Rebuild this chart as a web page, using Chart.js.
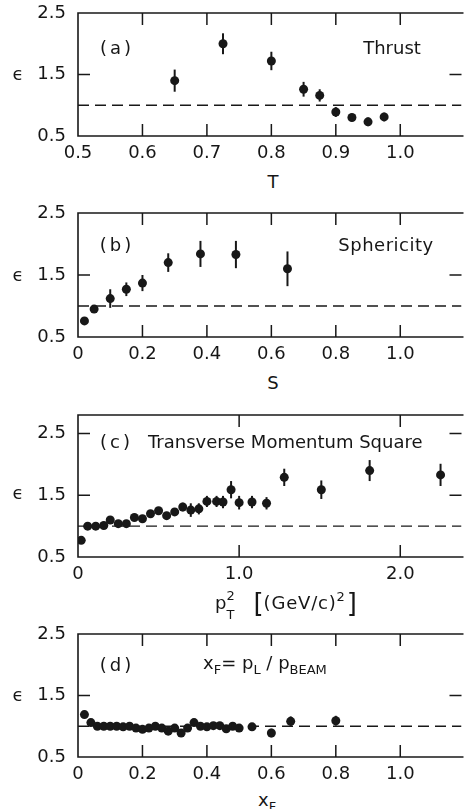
<!DOCTYPE html>
<html><head><meta charset="utf-8">
<script src="https://cdn.jsdelivr.net/npm/chart.js@4/dist/chart.umd.min.js"></script>
<style>
html,body{margin:0;padding:0;background:#fff;width:466px;height:809px;overflow:hidden;position:relative;font-family:"DejaVu Sans",sans-serif;color:#161616}
canvas.cv{position:absolute;left:0}
.t{position:absolute;font-size:18px;line-height:1;white-space:nowrap;transform:translate(-50%,-50%)}
.l{position:absolute;font-size:18px;line-height:1;white-space:nowrap;transform:translate(0,-50%)}
sub{font-size:13px;vertical-align:-5px;line-height:0}
sup{font-size:13px;vertical-align:8px;line-height:0}
.ss{display:inline-block;position:relative;width:11px;height:1px}
.ss .a{position:absolute;left:0;top:-19px;font-size:13px}
.ss .b{position:absolute;left:0;top:0px;font-size:13px}
.br{font-size:26px;vertical-align:-3px}
</style>
</head><body>
<canvas id="ca" class="cv" width="466" height="170" style="top:0px"></canvas>
<canvas id="cb" class="cv" width="466" height="170" style="top:200px"></canvas>
<canvas id="cc" class="cv" width="466" height="186" style="top:405px"></canvas>
<canvas id="cd" class="cv" width="466" height="163" style="top:624px"></canvas>

<div class="t" style="left:18px;top:74px">ϵ</div>
<div class="t" style="left:18px;top:275px">ϵ</div>
<div class="t" style="left:18px;top:493px">ϵ</div>
<div class="t" style="left:18px;top:695px">ϵ</div>

<div class="t" style="left:117px;top:48px;letter-spacing:3px">(a)</div>
<div class="t" style="left:392px;top:48px">Thrust</div>
<div class="t" style="left:117px;top:245px;letter-spacing:3px">(b)</div>
<div class="t" style="left:386px;top:245px;letter-spacing:0.5px">Sphericity</div>
<div class="l" style="left:100px;top:442px;letter-spacing:3px">(c)</div>
<div class="l" style="left:148px;top:442px">Transverse Momentum Square</div>
<div class="t" style="left:117px;top:665px;letter-spacing:3px">(d)</div>
<div class="l" style="left:203px;top:663px">x<sub>F</sub>= p<sub>L</sub> / p<sub>BEAM</sub></div>

<div class="t" style="left:273px;top:182px">T</div>
<div class="t" style="left:273px;top:383px">S</div>
<div class="l" style="left:215px;top:603px">p<span class="ss"><span class="a">2</span><span class="b">T</span></span><span class="br" style="margin-left:16px">[</span><span style="letter-spacing:0.8px">(GeV/c)</span><sup>2</sup><span class="br" style="margin-left:2px">]</span></div>
<div class="l" style="left:258px;top:800px">x<sub>F</sub></div>

<script>
// ---------- data ----------
const thrustT   = [0.65, 0.725, 0.80, 0.85, 0.875, 0.90, 0.925, 0.95, 0.975];
const thrustEps = [1.40, 2.00, 1.72, 1.26, 1.16, 0.89, 0.80, 0.73, 0.81];
const thrustErr = [0.18, 0.17, 0.15, 0.12, 0.10, 0.08, 0.06, 0.07, 0.07];

const sphS   = [0.02, 0.05, 0.10, 0.15, 0.20, 0.28, 0.38, 0.49, 0.65];
const sphEps = [0.76, 0.95, 1.12, 1.27, 1.37, 1.70, 1.84, 1.83, 1.60];
const sphErr = [0, 0, 0.15, 0.11, 0.13, 0.15, 0.21, 0.22, 0.28];

const ptSq  = [0.02, 0.06, 0.11, 0.16, 0.20, 0.25, 0.30, 0.35, 0.40, 0.45, 0.50, 0.55, 0.60, 0.65, 0.70, 0.75, 0.80, 0.86, 0.90, 0.95, 1.00, 1.08, 1.17, 1.28, 1.51, 1.81, 2.25];
const ptEps = [0.77, 1.00, 1.00, 1.01, 1.10, 1.04, 1.04, 1.14, 1.12, 1.20, 1.25, 1.17, 1.23, 1.31, 1.26, 1.28, 1.40, 1.40, 1.39, 1.59, 1.38, 1.39, 1.37, 1.79, 1.59, 1.90, 1.83];
const ptErr = [0, 0, 0, 0, 0, 0, 0, 0.04, 0.05, 0.05, 0.06, 0.06, 0.06, 0.07, 0.11, 0.09, 0.09, 0.09, 0.10, 0.14, 0.11, 0.10, 0.10, 0.14, 0.15, 0.17, 0.18];

const xF    = [0.02, 0.04, 0.06, 0.08, 0.10, 0.12, 0.14, 0.16, 0.18, 0.20, 0.22, 0.24, 0.26, 0.28, 0.30, 0.32, 0.34, 0.36, 0.38, 0.40, 0.42, 0.44, 0.46, 0.48, 0.50, 0.54, 0.60, 0.66, 0.80];
const xFEps = [1.19, 1.06, 1.00, 1.00, 1.00, 1.00, 0.99, 1.00, 0.97, 0.95, 0.97, 1.00, 0.97, 0.92, 0.97, 0.89, 0.97, 1.06, 1.00, 0.99, 1.01, 1.01, 0.96, 1.00, 0.97, 0.99, 0.89, 1.08, 1.09];
const xFErr = [0, 0, 0, 0, 0, 0, 0, 0, 0, 0, 0, 0, 0, 0, 0, 0.03, 0, 0.03, 0.03, 0.04, 0.04, 0.04, 0.04, 0.05, 0.05, 0.03, 0.07, 0.08, 0.08];

const yTicks = [0.5, 1.5, 2.5];
const xTicksA = [0.5, 0.6, 0.7, 0.8, 0.9, 1.0];
const xTicksB = [0, 0.2, 0.4, 0.6, 0.8, 1.0];
const xTicksC = [0, 1.0, 2.0];
const xTicksD = [0, 0.2, 0.4, 0.6, 0.8, 1.0];
const refLevel = 1.0;

// ---------- plugin: frame, inward ticks, error bars ----------
const INK = '#181818';
const framePlugin = {
  id: 'frame',
  beforeDatasetsDraw(chart) {
    const {ctx, chartArea: a, scales: {x, y}} = chart;
    ctx.save();
    ctx.strokeStyle = INK; ctx.lineWidth = 1.6;
    ctx.beginPath();
    ctx.moveTo(a.right + 2, a.top); ctx.lineTo(a.left, a.top);
    ctx.lineTo(a.left, a.bottom); ctx.lineTo(a.right + 2, a.bottom);
    ctx.stroke();
    ctx.lineWidth = 1.5;
    const tl = 12;
    x.ticks.forEach(t => {
      const px = x.getPixelForValue(t.value);
      if (Math.abs(px - a.left) < 2 || Math.abs(px - a.right) < 2) return;
      ctx.beginPath();
      ctx.moveTo(px, a.bottom); ctx.lineTo(px, a.bottom - tl);
      ctx.moveTo(px, a.top); ctx.lineTo(px, a.top + tl);
      ctx.stroke();
    });
    y.ticks.forEach(t => {
      const py = y.getPixelForValue(t.value);
      if (Math.abs(py - a.top) < 2 || Math.abs(py - a.bottom) < 2) return;
      ctx.beginPath();
      ctx.moveTo(a.left, py); ctx.lineTo(a.left + tl, py);
      ctx.moveTo(a.right, py); ctx.lineTo(a.right - tl, py);
      ctx.stroke();
    });
    ctx.restore();
  },
  afterDatasetsDraw(chart) {
    const {ctx, scales: {x, y}} = chart;
    ctx.save();
    ctx.strokeStyle = INK; ctx.lineWidth = 2;
    chart.data.datasets.forEach(ds => {
      if (!ds.errors) return;
      ds.data.forEach((p, i) => {
        const e = ds.errors[i];
        if (!e) return;
        const px = x.getPixelForValue(p.x);
        ctx.beginPath();
        ctx.moveTo(px, y.getPixelForValue(p.y + e));
        ctx.lineTo(px, y.getPixelForValue(p.y - e));
        ctx.stroke();
      });
    });
    ctx.restore();
  }
};

const fmt0 = v => (v === 0 ? '0' : Number(v).toFixed(1));

function makePanel(id, o) {
  const pts = o.xs.map((xv, i) => ({x: xv, y: o.ys[i]}));
  new Chart(document.getElementById(id), {
    type: 'scatter',
    data: {
      datasets: [
        {data: [{x: o.xmin, y: refLevel}, {x: o.xmax, y: refLevel}], showLine: true,
         borderColor: INK, borderWidth: 1.4, borderDash: [11, 6], pointRadius: 0, order: 2},
        {data: pts, errors: o.err, backgroundColor: INK, borderColor: INK, borderWidth: 0,
         pointRadius: 4.5, pointHoverRadius: 4.5, order: 1}
      ]
    },
    options: {
      responsive: false, animation: false, events: [],
      layout: {padding: {top: o.padTop, right: 0, left: 0, bottom: 0}},
      plugins: {legend: {display: false}, tooltip: {enabled: false}},
      scales: {
        x: {
          type: 'linear', min: o.xmin, max: o.xmax,
          grid: {display: false, drawTicks: false}, border: {display: false},
          afterBuildTicks: s => { s.ticks = o.xTicks.map(v => ({value: v})); },
          afterFit: s => { s.height = o.xH; s.paddingLeft = 0; s.paddingRight = 0; },
          ticks: {padding: 7, autoSkip: false, maxRotation: 0, color: '#161616',
                  font: {family: 'DejaVu Sans', size: 18}, callback: o.fmt}
        },
        y: {
          type: 'linear', min: 0.5, max: o.ymax,
          grid: {display: false, drawTicks: false}, border: {display: false},
          afterBuildTicks: s => { s.ticks = yTicks.map(v => ({value: v})); },
          afterFit: s => { s.width = 78; s.paddingTop = 0; s.paddingBottom = 0; },
          ticks: {padding: 12, autoSkip: false, color: '#161616',
                  font: {family: 'DejaVu Sans', size: 18}, callback: v => Number(v).toFixed(1)}
        }
      }
    },
    plugins: [framePlugin]
  });
}

makePanel('ca', {xs: thrustT, ys: thrustEps, err: thrustErr, xmin: 0.5, xmax: 1.095, ymax: 2.5,
  xTicks: xTicksA, fmt: v => Number(v).toFixed(1), padTop: 13, xH: 34});
makePanel('cb', {xs: sphS, ys: sphEps, err: sphErr, xmin: 0, xmax: 1.19, ymax: 2.5,
  xTicks: xTicksB, fmt: fmt0, padTop: 13, xH: 33});
makePanel('cc', {xs: ptSq, ys: ptEps, err: ptErr, xmin: 0, xmax: 2.38, ymax: 2.8,
  xTicks: xTicksC, fmt: fmt0, padTop: 10, xH: 34});
makePanel('cd', {xs: xF, ys: xFEps, err: xFErr, xmin: 0, xmax: 1.19, ymax: 2.5,
  xTicks: xTicksD, fmt: fmt0, padTop: 10, xH: 30});
</script>
</body></html>
